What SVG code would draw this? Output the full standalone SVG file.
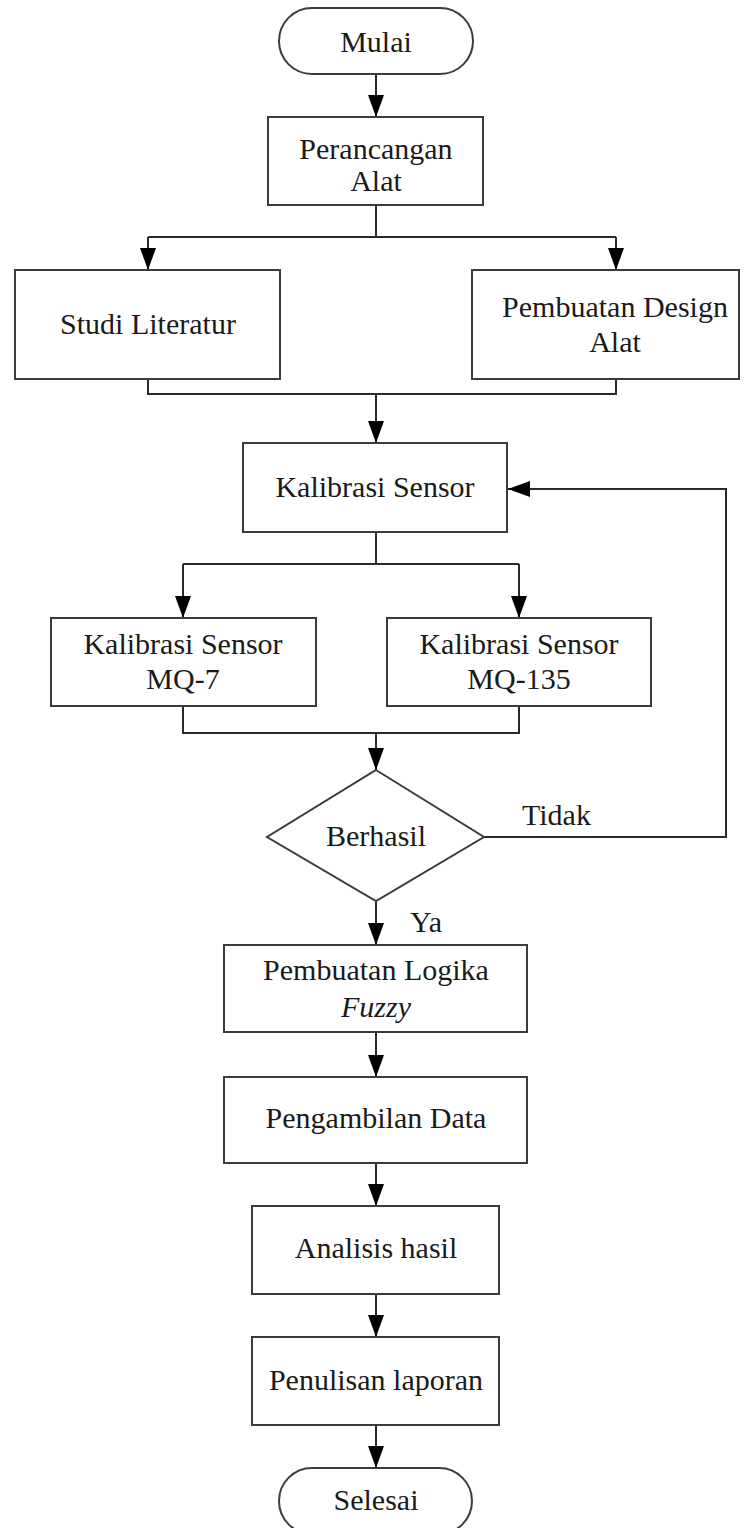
<svg xmlns="http://www.w3.org/2000/svg" width="749" height="1528" viewBox="0 0 749 1528">
<style>
.n{fill:#fff;stroke:#3c3c3c;stroke-width:2}
.c{fill:none;stroke:#2a2a2a;stroke-width:2}
.a{fill:none;stroke:#2a2a2a;stroke-width:2;marker-end:url(#ah)}
text{font-family:"Liberation Serif","Times New Roman",serif;font-size:30px;fill:#1a1a1a;text-anchor:middle}
.l{text-anchor:start}
</style>
<defs>
<marker id="ah" viewBox="0 0 22 16" refX="22" refY="8" markerWidth="22" markerHeight="16" markerUnits="userSpaceOnUse" orient="auto">
<path d="M0,0 L22,8 L0,16 Z" fill="#000"/>
</marker>
</defs>
<rect width="749" height="1528" fill="#fff"/>
<g id="connectors">
<path class="a" d="M376,74 V117"/>
<path class="c" d="M376,205 V237 M148,237 H616"/>
<path class="a" d="M148,237 V270"/>
<path class="a" d="M616,237 V270"/>
<path class="c" d="M148,379 V394 H616 V379"/>
<path class="a" d="M376,394 V443"/>
<path class="c" d="M376,532 V564 M183,564 H519"/>
<path class="a" d="M183,564 V618"/>
<path class="a" d="M519,564 V618"/>
<path class="c" d="M183,706 V733 H519 V706"/>
<path class="a" d="M376,733 V770"/>
<path class="a" d="M484,837 H726 V489 H508"/>
<path class="a" d="M376,901 V945"/>
<path class="a" d="M376,1032 V1077"/>
<path class="a" d="M376,1163 V1206"/>
<path class="a" d="M376,1294 V1337"/>
<path class="a" d="M376,1425 V1468"/>
<text class="l" x="522" y="825">Tidak</text>
<text class="l" x="410" y="932">Ya</text>
</g>
<g id="mulai"><rect class="n" x="279" y="8" width="194" height="66" rx="33"/><text x="376" y="52">Mulai</text></g>
<g id="perancangan"><rect class="n" x="268" y="117" width="215" height="88"/><text x="376" y="159">Perancangan</text><text x="376" y="191">Alat</text></g>
<g id="studi"><rect class="n" x="15" y="270" width="265" height="109"/><text x="148" y="334">Studi Literatur</text></g>
<g id="design"><rect class="n" x="472" y="270" width="267" height="109"/><text x="615" y="317">Pembuatan Design</text><text x="615" y="352">Alat</text></g>
<g id="kalibrasi"><rect class="n" x="243" y="443" width="264" height="89"/><text x="375" y="497">Kalibrasi Sensor</text></g>
<g id="mq7"><rect class="n" x="51" y="618" width="265" height="88"/><text x="183" y="654">Kalibrasi Sensor</text><text x="183" y="689">MQ-7</text></g>
<g id="mq135"><rect class="n" x="387" y="618" width="264" height="88"/><text x="519" y="654">Kalibrasi Sensor</text><text x="519" y="689">MQ-135</text></g>
<g id="berhasil"><polygon class="n" points="376,770 484,837 376,901 267,837"/><text x="376" y="846">Berhasil</text></g>
<g id="fuzzy"><rect class="n" x="224" y="945" width="303" height="87"/><text x="376" y="980">Pembuatan Logika</text><text x="376" y="1017" font-style="italic">Fuzzy</text></g>
<g id="pengambilan"><rect class="n" x="224" y="1077" width="303" height="86"/><text x="376" y="1128">Pengambilan Data</text></g>
<g id="analisis"><rect class="n" x="252" y="1206" width="247" height="88"/><text x="376" y="1258">Analisis hasil</text></g>
<g id="penulisan"><rect class="n" x="252" y="1337" width="247" height="88"/><text x="376" y="1390">Penulisan laporan</text></g>
<g id="selesai"><rect class="n" x="279" y="1468" width="193" height="66" rx="33"/><text x="376" y="1510">Selesai</text></g>
</svg>
